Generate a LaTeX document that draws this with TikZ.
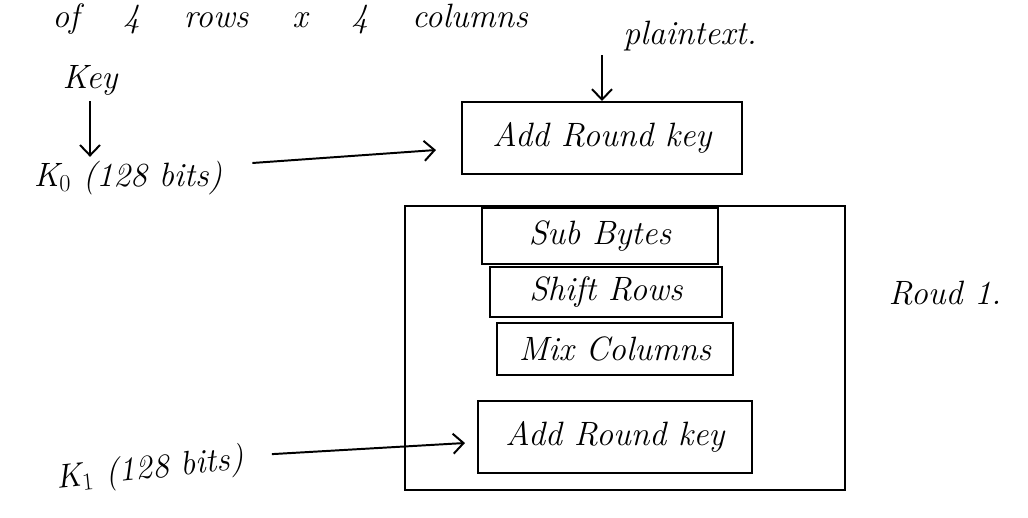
\documentclass[tikz,border=0pt]{standalone}
\usetikzlibrary{arrows.meta,calc}
\begin{document}
\begin{tikzpicture}[x=0.025cm,y=-0.025cm,
  every node/.style={font=\fontsize{24}{28}\selectfont\itshape, inner sep=0pt},
  stage/.style={draw, line width=1.4pt, minimum height=1.35cm},
  arr/.style={line width=1.4pt, -{Straight Barb[length=2.6mm,width=5mm,line width=1.4pt]}}
]
\useasboundingbox (0,0) rectangle (1028,518);

% heading line along the top edge
\node[anchor=base west] (hdr) at (52,28) {of\hspace{1.3em}4\hspace{1.3em}rows\hspace{1.3em}x\hspace{1.3em}4\hspace{1.3em}columns};

% inputs
\node (pt) at (690,36) {plaintext.};
\node (key) at (90,80) {Key};
\node (k0) at (128,178) {K$_0$ (128 bits)};
\node[rotate=6] (k1) at (150,470) {K$_1$ (128 bits)};

% initial key addition
\node[stage, minimum width=7cm, minimum height=1.8cm] (ark0) at (602,138) {Add Round key};

% round 1
\node[draw, line width=1.4pt, minimum width=11cm, minimum height=7.1cm] (rnd) at (625,348) {};
\node[stage, minimum width=5.9cm, minimum height=1.4cm] (sb) at (600,236) {Sub Bytes};
\node[stage, minimum width=5.8cm, minimum height=1.25cm] (sr) at (606,292) {Shift Rows};
\node[stage, minimum width=5.9cm, minimum height=1.3cm] (mc) at (615,349) {Mix Columns};
\node[stage, minimum width=6.85cm, minimum height=1.8cm] (ark1) at (615,437) {Add Round key};
\node (r1) at (945,293) {Roud 1.};

% connectors
\draw[arr] (ark0.north |- pt.south) ++(0,4) -- (ark0.north);
\draw[arr] (key.south) ++(0,6) -- ($(key.south |- k0.north)+(0,-4)$);
\draw[arr] ($(k0.east)+(30,-15)$) -- ($(ark0.west)+(-25,12)$);
\draw[arr] ($(k1.east)+(28,-6)$) -- ($(ark1.west)+(-12,6)$);
\end{tikzpicture}
\end{document}
